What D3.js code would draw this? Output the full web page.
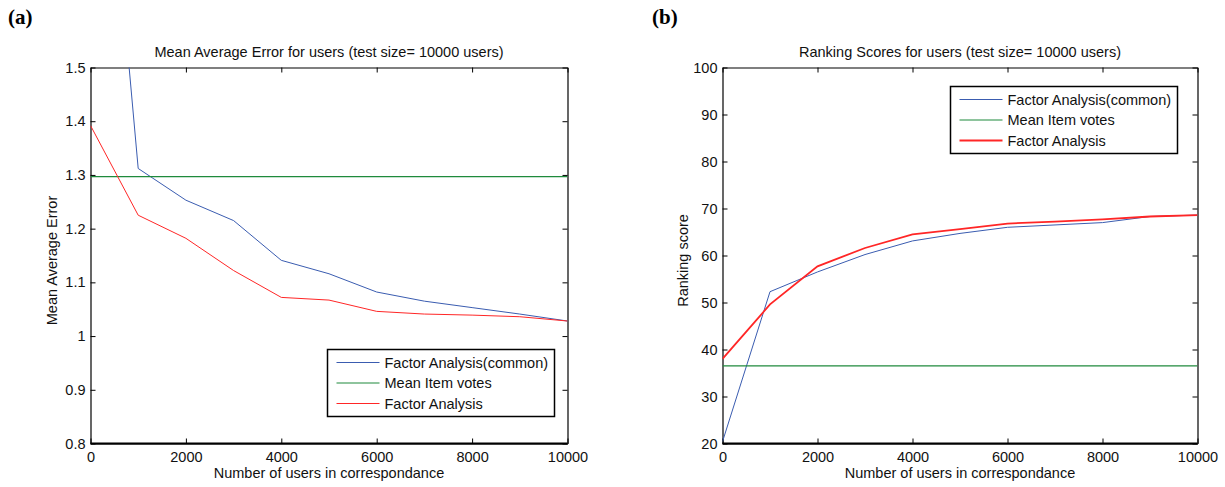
<!DOCTYPE html>
<html>
<head>
<meta charset="utf-8">
<script src="https://cdn.jsdelivr.net/npm/d3@7"></script>
<style>
  body { margin: 0; background: #fff; }
  svg { font-family: "Liberation Sans", Arial, sans-serif; }
  .tick text { font-size: 14.5px; fill: #111; }
</style>
</head>
<body>
<div id="chart"></div>
<script>
// data
const users = [0, 1000, 2000, 3000, 4000, 5000, 6000, 7000, 8000, 9000, 10000]

// (a) mean average error
const maeCommon = [2.3, 1.312, 1.253, 1.215, 1.141, 1.116, 1.082, 1.065, 1.053, 1.041, 1.028]
const maeMeanItem = [1.297, 1.297, 1.297, 1.297, 1.297, 1.297, 1.297, 1.297, 1.297, 1.297, 1.297]
const maeFactor = [1.392, 1.225, 1.182, 1.122, 1.072, 1.067, 1.046, 1.041, 1.039, 1.036, 1.028]

// (b) ranking scores
const rankCommon = [20.4, 52.3, 56.5, 60.2, 63.1, 64.7, 66.0, 66.5, 67.0, 68.3, 68.6]
const rankMeanItem = [36.5, 36.5, 36.5, 36.5, 36.5, 36.5, 36.5, 36.5, 36.5, 36.5, 36.5]
const rankFactor = [38.0, 49.6, 57.7, 61.6, 64.5, 65.6, 66.8, 67.2, 67.7, 68.3, 68.6]

const xTicks = [0, 2000, 4000, 6000, 8000, 10000]
const maeTicks = [0.8, 0.9, 1, 1.1, 1.2, 1.3, 1.4, 1.5]
const rankTicks = [20, 30, 40, 50, 60, 70, 80, 90, 100]
const seriesNames = ['Factor Analysis(common)', 'Mean Item votes', 'Factor Analysis']
const colors = ['#3a5cb0', '#1f8a3c', '#ff2626']

const fontSize = '14.5px'

const svg = d3.select('#chart')
  .append('svg')
  .attr('width', 1225)
  .attr('height', 487)

function drawPanel(opt) {
  const w = opt.right - opt.left
  const h = opt.bottom - opt.top

  const xScale = d3.scaleLinear().domain([0, 10000]).range([0, w])
  const yScale = d3.scaleLinear().domain(opt.yDomain).range([h, 0])

  const ctr = svg.append('g')
    .attr('transform', `translate(${opt.left}, ${opt.top})`)

  // clip so the steep blue start is cut at the top
  ctr.append('clipPath').attr('id', opt.id + '-clip')
    .append('rect').attr('width', w).attr('height', h)

  // panel letter
  svg.append('text')
    .attr('x', opt.letterX)
    .attr('y', 24)
    .style('font-family', '"Liberation Serif", "Times New Roman", serif')
    .style('font-weight', 'bold')
    .style('font-size', '21px')
    .text(opt.letter)

  // title
  ctr.append('text')
    .attr('x', w / 2)
    .attr('y', -11)
    .attr('text-anchor', 'middle')
    .style('font-size', fontSize)
    .attr('fill', '#111')
    .text(opt.title)

  // axes with inward ticks on all four sides
  const xAxisB = d3.axisBottom(xScale).tickValues(xTicks).tickSizeInner(-5).tickSizeOuter(0).tickPadding(8)
    .tickFormat(d3.format('d'))
  const xAxisT = d3.axisTop(xScale).tickValues(xTicks).tickSizeInner(-5).tickSizeOuter(0).tickFormat('')
  const yAxisL = d3.axisLeft(yScale).tickValues(opt.yTicks).tickSizeInner(-5).tickSizeOuter(0).tickPadding(5)
    .tickFormat(d3.format('~g'))
  const yAxisR = d3.axisRight(yScale).tickValues(opt.yTicks).tickSizeInner(-5).tickSizeOuter(0).tickFormat('')

  ctr.append('g').attr('transform', `translate(0, ${h})`).call(xAxisB)
  ctr.append('g').call(xAxisT)
  ctr.append('g').call(yAxisL)
  ctr.append('g').attr('transform', `translate(${w}, 0)`).call(yAxisR)
  ctr.selectAll('.domain').attr('stroke', '#000').attr('stroke-width', 1.2)
  ctr.selectAll('.tick line').attr('stroke', '#000')
  ctr.selectAll('.tick text').attr('fill', '#111')

  // series lines
  const line = d3.line()
    .x((d, i) => xScale(users[i]))
    .y(d => yScale(d))

  const lines = ctr.append('g').attr('clip-path', `url(#${opt.id}-clip)`)
  opt.series.forEach((s, i) => {
    lines.append('path')
      .datum(s)
      .attr('fill', 'none')
      .attr('stroke', colors[i])
      .attr('stroke-width', opt.widths[i])
      .attr('d', line)
  })

  // redraw the bottom axis line a bit heavier
  ctr.append('line')
    .attr('x1', 0).attr('x2', w)
    .attr('y1', h).attr('y2', h)
    .attr('stroke', '#000').attr('stroke-width', 2)

  // axis labels
  ctr.append('text')
    .attr('x', w / 2)
    .attr('y', h + 34)
    .attr('text-anchor', 'middle')
    .style('font-size', fontSize)
    .attr('fill', '#111')
    .text('Number of users in correspondance')

  ctr.append('text')
    .attr('transform', `translate(${opt.yLabelX}, ${h / 2 + 5}) rotate(-90)`)
    .attr('text-anchor', 'middle')
    .style('font-size', fontSize)
    .attr('fill', '#111')
    .text(opt.yLabel)

  // legend
  const lg = svg.append('g')
    .attr('transform', `translate(${opt.legend.x}, ${opt.legend.y})`)
  lg.append('rect')
    .attr('width', 227)
    .attr('height', 67)
    .attr('fill', '#fff')
    .attr('stroke', '#000')
    .attr('stroke-width', 1.5)
  seriesNames.forEach((name, i) => {
    const yy = 13 + i * 20.5
    lg.append('line')
      .attr('x1', 9).attr('x2', 52)
      .attr('y1', yy).attr('y2', yy)
      .attr('stroke', colors[i])
      .attr('stroke-width', opt.widths[i])
    lg.append('text')
      .attr('x', 57)
      .attr('y', yy + 5)
      .style('font-size', fontSize)
      .attr('fill', '#111')
      .text(name)
  })
}

drawPanel({
  id: 'mae', letter: '(a)', letterX: 8,
  left: 90.5, right: 567.5, top: 67.5, bottom: 443.5,
  yDomain: [0.8, 1.5], yTicks: maeTicks,
  title: 'Mean Average Error for users (test size= 10000 users)',
  yLabel: 'Mean Average Error', yLabelX: -34,
  series: [maeCommon, maeMeanItem, maeFactor],
  widths: [1, 1.2, 1],
  legend: { x: 327.5, y: 349.5 }
})

drawPanel({
  id: 'rank', letter: '(b)', letterX: 652,
  left: 722.5, right: 1197.5, top: 67.5, bottom: 443.5,
  yDomain: [20, 100], yTicks: rankTicks,
  title: 'Ranking Scores for users (test size= 10000 users)',
  yLabel: 'Ranking score', yLabelX: -35,
  series: [rankCommon, rankMeanItem, rankFactor],
  widths: [1, 1.2, 1.8],
  legend: { x: 950.5, y: 86.5 }
})
</script>
</body>
</html>
